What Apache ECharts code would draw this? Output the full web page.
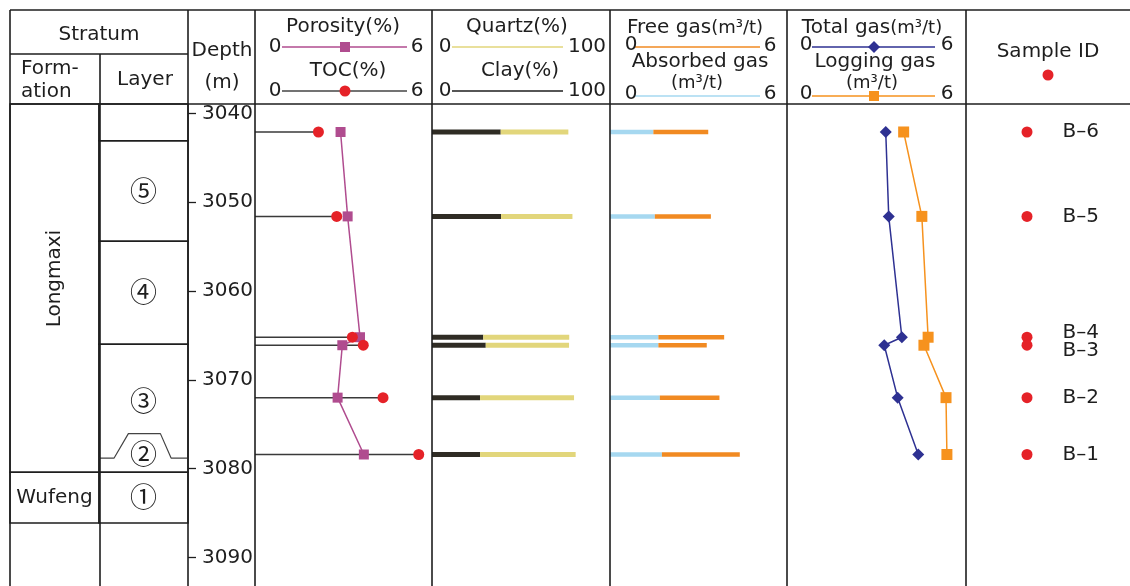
<!DOCTYPE html>
<html>
<head>
<meta charset="utf-8">
<title>Well profile</title>
<script src="https://cdn.jsdelivr.net/npm/echarts@6/dist/echarts.min.js"></script>
<style>
  html, body { margin: 0; padding: 0; background: #fff; }
  #chart { width: 1130px; height: 586px; }
</style>
</head>
<body>
<div id="chart"></div>
<script>
// samples, listed top to bottom
const sampleIds = ['B–6', 'B–5', 'B–4', 'B–3', 'B–2', 'B–1'];
const sampleDepth = [3042.1, 3051.6, 3065.2, 3066.1, 3072.0, 3078.4];
const porosity = [2.90, 3.14, 3.56, 2.96, 2.80, 3.69];
const toc = [2.15, 2.77, 3.30, 3.67, 4.34, 5.55];
const clay = [38.6, 38.8, 28.8, 30.2, 27.0, 27.0];
const quartz = [38.0, 40.1, 48.3, 46.8, 52.8, 53.7];
const absorbedGas = [1.47, 1.52, 1.64, 1.64, 1.69, 1.76];
const freeGas = [1.86, 1.90, 2.23, 1.64, 2.02, 2.64];
const totalGas = [3.31, 3.41, 3.85, 3.26, 3.71, 4.40];
const loggingGas = [3.91, 4.52, 4.73, 4.59, 5.33, 5.36];

const depthTicks = [3040, 3050, 3060, 3070, 3080, 3090];

const formationNames = ['Longmaxi', 'Wufeng'];
const formationTop = [3038.95, 3080.4];
const formationBase = [3080.4, 3086.1];
const formationLabelDepth = [3058.6, 3083.3];

const layerNames = ['', '⑤', '④', '③', '①'];
const layerTop = [3038.95, 3043.1, 3054.4, 3066.0, 3080.4];
const layerBase = [3043.1, 3054.4, 3066.0, 3080.4, 3086.1];
const layerLabelDepth = [3041.0, 3048.7, 3060.1, 3072.3, 3083.2];
// layer 2 is a lens inside layer 3
const lensName = '②';
const lensLabelDepth = 3078.3;
const lensOutline = [[1, 3078.8], [1.17, 3078.8], [1.33, 3076.05], [1.69, 3076.05], [1.81, 3078.8], [2, 3078.8]];

const depthMin = 3038.95, depthMax = 3093.2;
const font = 'DejaVu Sans';
const ink = '#1e1e1e';
const magenta = '#b04c8f';
const tocRed = '#e52228';
const stemGray = '#3a3a3a';
const clayDark = '#2f2c24';
const quartzYellow = '#e2d67b';
const absBlue = '#a6d8f0';
const freeOrange = '#f18a22';
const navy = '#2e3192';
const logOrange = '#f6921e';

const tracks = [
  {left: 10, width: 178, max: 2},    // stratum
  {left: 188, width: 67, max: 1},    // depth
  {left: 255, width: 177, max: 6},   // porosity / toc
  {left: 432, width: 178, max: 100}, // quartz / clay
  {left: 610, width: 177, max: 6},   // free / absorbed gas
  {left: 787, width: 179, max: 6},   // total / logging gas
  {left: 1027, width: 100, max: 1}   // sample id
];

const myChart = echarts.init(document.getElementById('chart'));

function barRender(color, h) {
  return function (params, api) {
    const a = api.coord([api.value(0), api.value(2)]);
    const b = api.coord([api.value(1), api.value(2)]);
    return {type: 'rect', shape: {x: a[0], y: a[1] - h / 2, width: b[0] - a[0], height: h}, style: {fill: color}};
  };
}

function stemRender(params, api) {
  const a = api.coord([api.value(0), api.value(2)]);
  const b = api.coord([api.value(1), api.value(2)]);
  return {type: 'line', shape: {x1: a[0], y1: a[1], x2: b[0], y2: b[1]}, style: {stroke: stemGray, lineWidth: 1.5}};
}

function boxRender(params, api) {
  const a = api.coord([api.value(0), api.value(2)]);
  const b = api.coord([api.value(1), api.value(3)]);
  return {type: 'rect', shape: {x: a[0], y: a[1], width: b[0] - a[0], height: b[1] - a[1]},
    style: {fill: 'none', stroke: ink, lineWidth: 1.5}};
}

const strataCells = formationTop.map((t, i) => [0, 1, t, formationBase[i]])
  .concat(layerTop.map((t, i) => [1, 2, t, layerBase[i]]));

const labelData = [], labelText = [], labelRotate = [];
formationNames.forEach((n, i) => { labelData.push([0.5, formationLabelDepth[i]]); labelText.push(n); labelRotate.push(i === 0); });
layerNames.forEach((n, i) => { labelData.push([1.5, layerLabelDepth[i]]); labelText.push(n); labelRotate.push(false); });
labelData.push([1.5, lensLabelDepth]); labelText.push(lensName); labelRotate.push(false);

function labelRender(params, api) {
  const p = api.coord([api.value(0), api.value(1)]);
  const txt = labelText[params.dataIndex];
  const circled = /[①-⑤]/.test(txt);
  return {type: 'text', x: p[0], y: p[1], rotation: labelRotate[params.dataIndex] ? Math.PI / 2 : 0,
    style: {text: txt, fontSize: circled ? 27 : 20, fontFamily: circled ? 'Noto Sans CJK SC' : font,
      fill: ink, align: 'center', verticalAlign: 'middle'}};
}

// header drawing
const g = [];
function line(x1, y1, x2, y2, stroke, w) {
  g.push({type: 'line', shape: {x1, y1, x2, y2}, style: {stroke: stroke || ink, lineWidth: w || 1.6}, z: 10});
}
function text(str, x, y, align) {
  g.push({type: 'text', x, y, style: {text: str, fontFamily: font, fontSize: 20, fill: ink,
    align: align || 'center', verticalAlign: 'middle'}, z: 10});
}
function richText(main, unit, x, y) {
  g.push({type: 'text', x, y, z: 10, style: {
    text: (main ? '{a|' + main + '}' : '') + '{b|' + unit + '}',
    rich: {a: {fontSize: 20, fontFamily: font, fill: ink}, b: {fontSize: 18, fontFamily: font, fill: ink}},
    align: 'center', verticalAlign: 'middle'}});
}

line(10, 10, 1130, 10);
line(10, 104, 1130, 104);
line(10, 54, 188, 54);
[10, 188, 255, 432, 610, 787, 966].forEach(x => line(x, 10, x, 586));
line(100, 54, 100, 586);

text('Stratum', 99, 35);
text('Form-', 21, 69, 'left');
text('ation', 21, 92, 'left');
text('Layer', 145, 80);
text('Depth', 222, 51);
text('(m)', 222, 83);

text('Porosity(%)', 343, 27);
line(282, 47, 407, 47, magenta, 1.5);
g.push({type: 'rect', shape: {x: 340, y: 42, width: 10, height: 10}, style: {fill: magenta}, z: 11});
text('0', 275, 47); text('6', 417, 47);
text('TOC(%)', 348, 71);
line(282, 91, 407, 91, '#444', 1.5);
g.push({type: 'circle', shape: {cx: 345, cy: 91, r: 5.5}, style: {fill: tocRed}, z: 11});
text('0', 275, 91); text('6', 417, 91);

text('Quartz(%)', 517, 27);
line(452, 47, 563, 47, quartzYellow, 1.5);
text('0', 445, 47); text('100', 587, 47);
text('Clay(%)', 520, 71);
line(452, 91, 563, 91, ink, 1.5);
text('0', 445, 91); text('100', 587, 91);

richText('Free gas', '(m³/t)', 695, 28);
line(635, 47, 760, 47, freeOrange, 1.5);
text('0', 631, 45); text('6', 770, 46);
text('Absorbed gas', 700, 62);
richText('', '(m³/t)', 697, 83);
line(635, 96, 760, 96, absBlue, 1.5);
text('0', 631, 94); text('6', 770, 94);

richText('Total gas', '(m³/t)', 872, 28);
line(812, 47, 935, 47, navy, 1.5);
g.push({type: 'polygon', shape: {points: [[874, 41], [880, 47], [874, 53], [868, 47]]}, style: {fill: navy}, z: 11});
text('0', 806, 45); text('6', 947, 45);
text('Logging gas', 875, 62);
richText('', '(m³/t)', 872, 83);
line(812, 96, 935, 96, logOrange, 1.5);
g.push({type: 'rect', shape: {x: 869, y: 91, width: 10, height: 10}, style: {fill: logOrange}, z: 11});
text('0', 806, 94); text('6', 947, 94);

text('Sample ID', 1048, 52);
g.push({type: 'circle', shape: {cx: 1048, cy: 75, r: 5.5}, style: {fill: tocRed}, z: 11});

const pairs = (xs) => xs.map((v, i) => [v, sampleDepth[i]]);

const option = {
  animation: false,
  backgroundColor: '#fff',
  grid: tracks.map(t => ({left: t.left, top: 104, width: t.width, height: 482, outerBoundsMode: 'none'})),
  xAxis: tracks.map((t, i) => ({gridIndex: i, type: 'value', min: 0, max: t.max, show: false})),
  yAxis: tracks.map((t, i) => {
    const ax = {gridIndex: i, type: 'value', inverse: true, min: depthMin, max: depthMax, show: i === 1,
      splitLine: {show: false}};
    if (i === 1) {
      ax.axisLine = {show: false};
      ax.axisTick = {show: true, inside: true, length: 8, customValues: depthTicks, lineStyle: {color: ink, width: 1.3}};
      ax.axisLabel = {inside: true, margin: 14, customValues: depthTicks, fontSize: 20, fontFamily: font, color: ink,
        formatter: v => String(v)};
    }
    return ax;
  }),
  graphic: g,
  series: [
    {type: 'custom', xAxisIndex: 0, yAxisIndex: 0, renderItem: boxRender, data: strataCells, encode: {x: [0, 1], y: [2, 3]}},
    {type: 'line', xAxisIndex: 0, yAxisIndex: 0, data: lensOutline, symbol: 'none', lineStyle: {color: '#444', width: 1.2}},
    {type: 'custom', xAxisIndex: 0, yAxisIndex: 0, renderItem: labelRender, data: labelData, encode: {x: 0, y: 1}},

    {type: 'custom', xAxisIndex: 2, yAxisIndex: 2, renderItem: stemRender,
      data: toc.map((v, i) => [0, v, sampleDepth[i]]), encode: {x: [0, 1], y: 2}},
    {name: 'Porosity', type: 'line', xAxisIndex: 2, yAxisIndex: 2, data: pairs(porosity),
      symbol: 'rect', symbolSize: 10, itemStyle: {color: magenta}, lineStyle: {color: magenta, width: 1.5}},
    {name: 'TOC', type: 'scatter', xAxisIndex: 2, yAxisIndex: 2, data: pairs(toc),
      symbol: 'circle', symbolSize: 11, itemStyle: {color: tocRed, opacity: 1}, z: 5},

    {type: 'custom', xAxisIndex: 3, yAxisIndex: 3, renderItem: barRender(clayDark, 5),
      data: clay.map((v, i) => [0, v, sampleDepth[i]]), encode: {x: [0, 1], y: 2}},
    {type: 'custom', xAxisIndex: 3, yAxisIndex: 3, renderItem: barRender(quartzYellow, 5),
      data: quartz.map((v, i) => [clay[i], clay[i] + v, sampleDepth[i]]), encode: {x: [0, 1], y: 2}},

    {type: 'custom', xAxisIndex: 4, yAxisIndex: 4, renderItem: barRender(absBlue, 4.5),
      data: absorbedGas.map((v, i) => [0, v, sampleDepth[i]]), encode: {x: [0, 1], y: 2}},
    {type: 'custom', xAxisIndex: 4, yAxisIndex: 4, renderItem: barRender(freeOrange, 4.5),
      data: freeGas.map((v, i) => [absorbedGas[i], absorbedGas[i] + v, sampleDepth[i]]), encode: {x: [0, 1], y: 2}},

    {name: 'Total gas', type: 'line', xAxisIndex: 5, yAxisIndex: 5, data: pairs(totalGas),
      symbol: 'diamond', symbolSize: 12, itemStyle: {color: navy}, lineStyle: {color: navy, width: 1.5}},
    {name: 'Logging gas', type: 'line', xAxisIndex: 5, yAxisIndex: 5, data: pairs(loggingGas),
      symbol: 'rect', symbolSize: 11, itemStyle: {color: logOrange}, lineStyle: {color: logOrange, width: 1.5}},

    {type: 'scatter', xAxisIndex: 6, yAxisIndex: 6, symbol: 'circle', symbolSize: 11,
      itemStyle: {color: tocRed, opacity: 1},
      label: {show: true, position: 'right', distance: 30, formatter: p => p.name,
        fontSize: 20, fontFamily: font, color: ink},
      data: sampleIds.map((id, i) => ({
        name: id, value: [0, sampleDepth[i]],
        label: {offset: i === 2 ? [0, -4] : (i === 3 ? [0, 6] : [0, 0])}
      }))}
  ]
};
myChart.setOption(option);
</script>
</body>
</html>
